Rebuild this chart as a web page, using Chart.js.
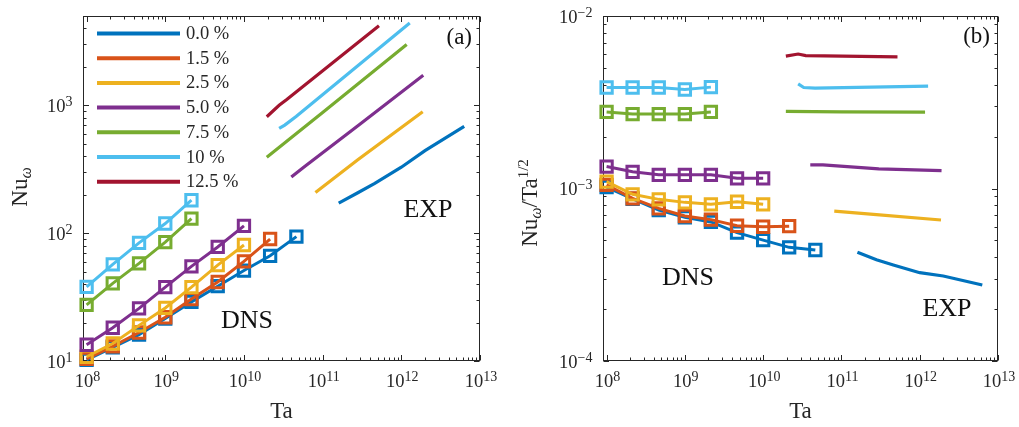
<!DOCTYPE html>
<html>
<head>
<meta charset="utf-8">
<script src="https://cdn.jsdelivr.net/npm/chart.js@4/dist/chart.umd.min.js"></script>
<style>
  body { margin: 0; background: #fff; }
  #wrap { position: relative; width: 1019px; height: 427px; }
  canvas { position: absolute; top: 0; }
</style>
</head>
<body>
<div id="wrap">
  <canvas id="chartA" width="510" height="427" style="left:0"></canvas>
  <canvas id="chartB" width="509" height="427" style="left:510px"></canvas>
</div>
<script>
// groups (legend) and MATLAB default colours
const groups = ['0.0 %', '1.5 %', '2.5 %', '5.0 %', '7.5 %', '10 %', '12.5 %'];
const colors = ['#0072BD', '#D95319', '#EDB120', '#7E2F8E', '#77AC30', '#4DBEEE', '#A2142F'];

// DNS Taylor numbers
const dnsTa = [1e8, 2.15e8, 4.64e8, 1e9, 2.15e9, 4.64e9, 1e10, 2.15e10, 4.64e10];

// panel (a): Nu_omega, DNS
const dnsNu_0   = [10.2, 12.8, 16.1, 21.5, 29, 38.5, 51, 66.5, 94];
const dnsNu_15  = [10.4, 13.0, 16.7, 22, 30.5, 41.5, 60.2, 90];
const dnsNu_25  = [10.8, 13.7, 19, 26, 37.8, 56.3, 80.8];
const dnsNu_50  = [13.4, 18.2, 25.8, 37.8, 55, 78, 114];
const dnsNu_75  = [27.5, 40.5, 58, 85, 130];
const dnsNu_100 = [38, 57, 84, 119, 181];
const dnsNu_125 = [];

// panel (b): Nu_omega / Ta^1/2, DNS
const dnsNt_0   = [1.02e-3, 0.87e-3, 0.75e-3, 0.68e-3, 0.64e-3, 0.555e-3, 0.502e-3, 0.456e-3, 0.44e-3];
const dnsNt_15  = [1.05e-3, 0.877e-3, 0.767e-3, 0.693e-3, 0.66e-3, 0.608e-3, 0.6e-3, 0.605e-3];
const dnsNt_25  = [1.096e-3, 0.925e-3, 0.865e-3, 0.831e-3, 0.81e-3, 0.838e-3, 0.81e-3];
const dnsNt_50  = [1.34e-3, 1.25e-3, 1.2e-3, 1.2e-3, 1.2e-3, 1.146e-3, 1.146e-3];
const dnsNt_75  = [2.78e-3, 2.70e-3, 2.70e-3, 2.70e-3, 2.78e-3];
const dnsNt_100 = [3.85e-3, 3.85e-3, 3.85e-3, 3.75e-3, 3.87e-3];
const dnsNt_125 = [];

// experiments: Ta, Nu_omega (a), Nu_omega/Ta^1/2 (b)
const expTa_0   = [1.6e11, 2.8e11, 4.6e11, 1.0e12, 2.0e12, 6.3e12];
const expNu_0   = [172, 207, 245, 328, 442, 686];
const expNt_0   = [0.427e-3, 0.386e-3, 0.36e-3, 0.325e-3, 0.311e-3, 0.276e-3];
const expTa_15  = [];
const expNu_15  = [];
const expNt_15  = [];
const expTa_25  = [8.1e10, 2.8e11, 1.87e12];
const expNu_25  = [208, 375, 890];
const expNt_25  = [0.74e-3, 0.706e-3, 0.657e-3];
const expTa_50  = [4.0e10, 5.8e10, 3e11, 1.9e12];
const expNu_50  = [275, 330, 715, 1720];
const expNt_50  = [1.37e-3, 1.37e-3, 1.3e-3, 1.27e-3];
const expTa_75  = [1.95e10, 1e11, 1.17e12];
const expNu_75  = [392, 880, 2990];
const expNt_75  = [2.80e-3, 2.78e-3, 2.77e-3];
const expTa_100 = [2.8e10, 3.3e10, 4.6e10, 1.28e12];
const expNu_100 = [660, 700, 818, 4400];
const expNt_100 = [4.04e-3, 3.85e-3, 3.82e-3, 3.92e-3];
const expTa_125 = [1.95e10, 2.8e10, 3.5e10, 5.2e11];
const expNu_125 = [815, 1000, 1110, 4200];
const expNt_125 = [5.85e-3, 6.02e-3, 5.9e-3, 5.8e-3];

const dnsNuAll = [dnsNu_0, dnsNu_15, dnsNu_25, dnsNu_50, dnsNu_75, dnsNu_100, dnsNu_125];
const dnsNtAll = [dnsNt_0, dnsNt_15, dnsNt_25, dnsNt_50, dnsNt_75, dnsNt_100, dnsNt_125];
const expTaAll = [expTa_0, expTa_15, expTa_25, expTa_50, expTa_75, expTa_100, expTa_125];
const expNuAll = [expNu_0, expNu_15, expNu_25, expNu_50, expNu_75, expNu_100, expNu_125];
const expNtAll = [expNt_0, expNt_15, expNt_25, expNt_50, expNt_75, expNt_100, expNt_125];

const FONT = '"Liberation Serif", "Times New Roman", serif';
const INK = '#262626';

function makeSets(dnsVals, expVals) {
  const sets = [];
  groups.forEach((g, i) => {
    if (dnsVals[i].length) {
      sets.push({
        label: g + ' DNS',
        data: dnsVals[i].map((v, j) => ({x: dnsTa[j], y: v})),
        showLine: true,
        borderColor: colors[i],
        borderWidth: 3,
        pointStyle: 'rect',
        pointRadius: 8,
        pointBorderWidth: 3,
        pointBorderColor: colors[i],
        pointBackgroundColor: 'rgba(0,0,0,0)',
        clip: false,
        order: 20 - 2 * i
      });
    }
    if (expTaAll[i].length) {
      sets.push({
        label: g + ' EXP',
        data: expTaAll[i].map((t, j) => ({x: t, y: expVals[i][j]})),
        showLine: true,
        borderColor: colors[i],
        borderWidth: 3.2,
        pointRadius: 0,
        order: 19 - 2 * i
      });
    }
  });
  return sets;
}

// text with sub/superscripts
function drawRich(ctx, parts, x, y, align) {
  let w = 0;
  parts.forEach(p => {
    ctx.font = (p.style || '') + ' ' + p.size + 'px ' + FONT;
    p.w = ctx.measureText(p.t).width;
    w += p.w;
  });
  let cx = align === 'center' ? x - w / 2 : (align === 'right' ? x - w : x);
  parts.forEach(p => {
    ctx.font = (p.style || '') + ' ' + p.size + 'px ' + FONT;
    ctx.fillText(p.t, cx, y + (p.dy || 0));
    cx += p.w;
  });
}
function pow10(n) {
  return [{t: '10', size: 18.5}, {t: String(n).replace('-', '\u2212'), size: 14, dy: -6}];
}
function logTicks(s) {
  const out = [];
  for (let n = Math.floor(Math.log10(s.min)); n <= Math.ceil(Math.log10(s.max)); n++) {
    for (let k = 1; k < 10; k++) {
      const v = k * Math.pow(10, n);
      if (v >= s.min * 0.999 && v <= s.max * 1.001) out.push([v, k === 1, n]);
    }
  }
  return out;
}

const deco = {
  id: 'deco',
  beforeDatasetsDraw(chart, args, o) {
    const {ctx, chartArea: a, scales} = chart;
    const L = Math.round(a.left) + 0.5, R = Math.round(a.right) - 0.5;
    const T = Math.round(a.top) + 0.5, B = Math.round(a.bottom) - 0.5;
    ctx.save();
    ctx.strokeStyle = INK;
    ctx.lineWidth = 1;
    ctx.beginPath();
    logTicks(scales.x).forEach(([v, major]) => {
      const px = Math.round(scales.x.getPixelForValue(v)) + 0.5;
      const len = major ? 5.5 : 3;
      ctx.moveTo(px, B); ctx.lineTo(px, B - len);
      ctx.moveTo(px, T); ctx.lineTo(px, T + len);
    });
    logTicks(scales.y).forEach(([v, major]) => {
      const py = Math.round(scales.y.getPixelForValue(v)) + 0.5;
      const len = major ? 5.5 : 3;
      ctx.moveTo(L, py); ctx.lineTo(L + len, py);
      ctx.moveTo(R, py); ctx.lineTo(R - len, py);
    });
    ctx.stroke();
    ctx.strokeRect(L, T, R - L, B - T);

    ctx.fillStyle = INK;
    ctx.textAlign = 'left';
    ctx.textBaseline = 'alphabetic';
    logTicks(scales.x).filter(t => t[1]).forEach(([v, , n]) => {
      drawRich(ctx, pow10(n), scales.x.getPixelForValue(v) + 1, 387, 'center');
    });
    logTicks(scales.y).filter(t => t[1]).forEach(([v, , n]) => {
      drawRich(ctx, pow10(n), L - 11, scales.y.getPixelForValue(v) + 6.5, 'right');
    });
    // axis titles
    drawRich(ctx, [{t: 'Ta', size: 23}], (a.left + a.right) / 2, 418, 'center');
    ctx.save();
    ctx.translate(o.yTitleX, o.yTitleY);
    ctx.rotate(-Math.PI / 2);
    drawRich(ctx, o.yTitle, 0, 0, 'center');
    ctx.restore();
    ctx.restore();
  },
  afterDatasetsDraw(chart, args, o) {
    const ctx = chart.ctx;
    ctx.save();
    ctx.fillStyle = '#111';
    ctx.textAlign = 'left';
    ctx.textBaseline = 'alphabetic';
    drawRich(ctx, [{t: o.panel, size: 23}], o.panelX, o.panelY, 'right');
    o.notes.forEach(n => drawRich(ctx, [{t: n.t, size: 26}], n.x, n.y, 'center'));
    if (o.legend) {
      groups.forEach((g, i) => {
        const y = 33.5 + 24.7 * i;
        ctx.strokeStyle = colors[i];
        ctx.lineWidth = 4;
        ctx.beginPath();
        ctx.moveTo(97, y);
        ctx.lineTo(180, y);
        ctx.stroke();
        ctx.fillStyle = INK;
        drawRich(ctx, [{t: g, size: 18.5}], 186, y + 5.5, 'left');
      });
    }
    ctx.restore();
  }
};

function axis(min, max, fit) {
  return {
    type: 'logarithmic',
    min: min,
    max: max,
    bounds: 'data',
    grid: {display: false},
    border: {display: false},
    ticks: {display: false},
    afterFit: fit
  };
}

new Chart(document.getElementById('chartA'), {
  type: 'scatter',
  data: {datasets: makeSets(dnsNuAll, expNuAll)},
  plugins: [deco],
  options: {
    responsive: false,
    animation: false,
    events: [],
    layout: {padding: {left: 0, top: 16, right: 30, bottom: 0}},
    scales: {
      x: axis(0.9e8, 1e13, s => { s.height = 66; }),
      y: axis(10, 5000, s => { s.width = 83; })
    },
    plugins: {
      legend: {display: false},
      tooltip: {enabled: false},
      deco: {
        yTitle: [{t: 'Nu', size: 23}, {t: '\u03c9', size: 16, style: 'italic', dy: 4}],
        yTitleX: 27, yTitleY: 187,
        panel: '(a)', panelX: 472, panelY: 44,
        notes: [{t: 'DNS', x: 247, y: 328}, {t: 'EXP', x: 428, y: 217}],
        legend: true
      }
    }
  }
});

new Chart(document.getElementById('chartB'), {
  type: 'scatter',
  data: {datasets: makeSets(dnsNtAll, expNtAll)},
  plugins: [deco],
  options: {
    responsive: false,
    animation: false,
    events: [],
    layout: {padding: {left: 0, top: 16, right: 21, bottom: 0}},
    scales: {
      x: axis(0.9e8, 1e13, s => { s.height = 66; }),
      y: axis(1e-4, 1e-2, s => { s.width = 93; })
    },
    plugins: {
      legend: {display: false},
      tooltip: {enabled: false},
      deco: {
        yTitle: [{t: 'Nu', size: 23}, {t: '\u03c9', size: 16, style: 'italic', dy: 4},
                 {t: '/Ta', size: 23}, {t: '1/2', size: 15, dy: -9}],
        yTitleX: 27, yTitleY: 203,
        panel: '(b)', panelX: 480, panelY: 43,
        notes: [{t: 'DNS', x: 178, y: 285}, {t: 'EXP', x: 437, y: 316}],
        legend: false
      }
    }
  }
});
</script>
</body>
</html>
